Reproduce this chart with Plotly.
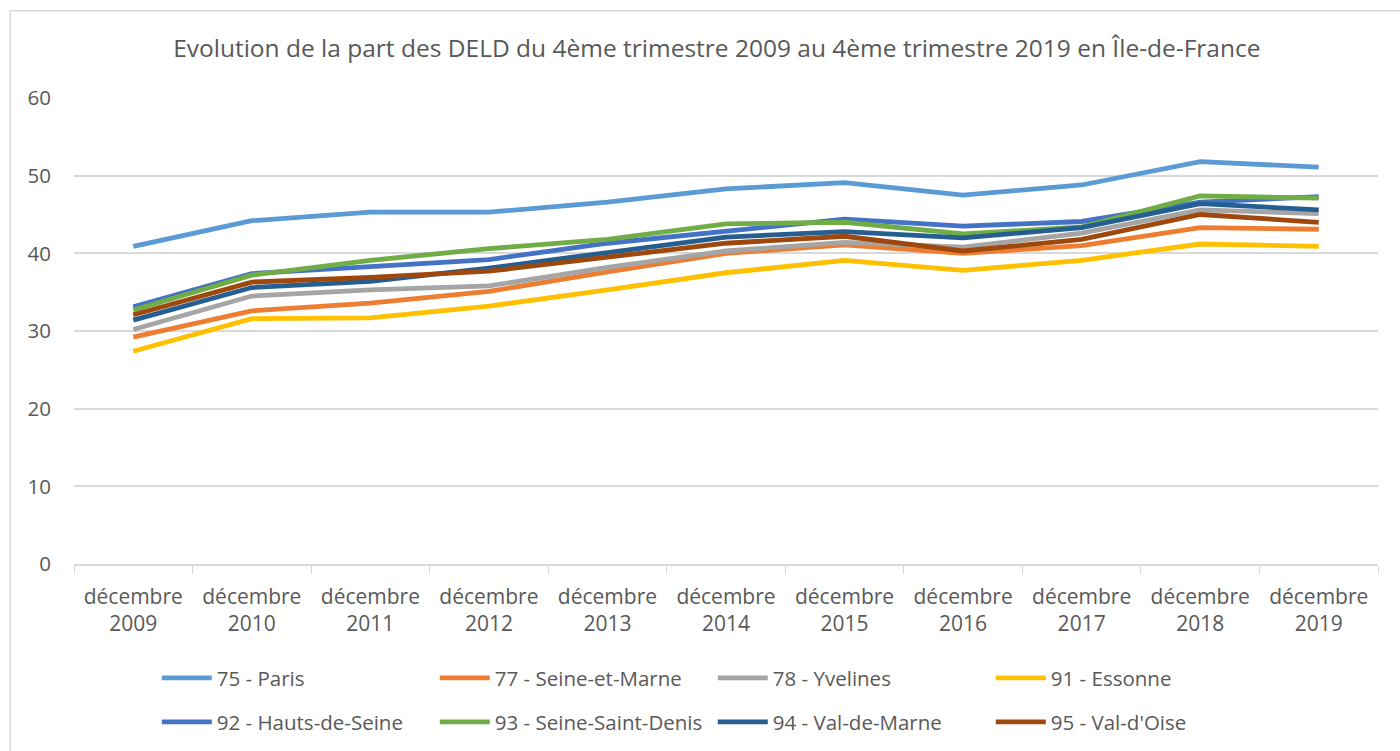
import plotly.graph_objects as go

# Share of long-term jobseekers (DELD), Q4 each year, by département
years = ["2009", "2010", "2011", "2012", "2013", "2014", "2015", "2016", "2017", "2018", "2019"]
categories = [f"décembre<br>{y}" for y in years]

paris = [40.9, 44.2, 45.3, 45.3, 46.6, 48.3, 49.1, 47.5, 48.8, 51.8, 51.1]
seine_et_marne = [29.2, 32.6, 33.6, 35.1, 37.6, 40.0, 41.1, 40.0, 41.0, 43.3, 43.1]
yvelines = [30.2, 34.5, 35.3, 35.8, 38.2, 40.3, 41.4, 40.8, 42.6, 45.6, 45.1]
essonne = [27.4, 31.6, 31.7, 33.2, 35.3, 37.5, 39.1, 37.8, 39.1, 41.2, 40.9]
hauts_de_seine = [33.1, 37.4, 38.3, 39.2, 41.3, 42.9, 44.4, 43.5, 44.1, 46.6, 47.3]
seine_saint_denis = [32.7, 37.2, 39.1, 40.6, 41.8, 43.8, 44.0, 42.5, 43.4, 47.4, 47.1]
val_de_marne = [31.4, 35.6, 36.4, 38.1, 40.1, 42.1, 42.8, 42.0, 43.3, 46.4, 45.6]
val_d_oise = [32.1, 36.3, 36.9, 37.7, 39.5, 41.3, 42.2, 40.3, 41.8, 45.0, 44.0]

series = [
    ("75 - Paris", paris, "#5B9BD5", "legend"),
    ("77 - Seine-et-Marne", seine_et_marne, "#ED7D31", "legend"),
    ("78 - Yvelines", yvelines, "#A5A5A5", "legend"),
    ("91 - Essonne", essonne, "#FFC000", "legend"),
    ("92 - Hauts-de-Seine", hauts_de_seine, "#4472C4", "legend2"),
    ("93 - Seine-Saint-Denis", seine_saint_denis, "#70AD47", "legend2"),
    ("94 - Val-de-Marne", val_de_marne, "#255E91", "legend2"),
    ("95 - Val-d'Oise", val_d_oise, "#9E480E", "legend2"),
]

FONT = "Open Sans"
TXT = "#595959"

fig = go.Figure()
for name, vals, color, leg in series:
    fig.add_trace(go.Scatter(
        x=categories, y=vals, name=name, mode="lines",
        line=dict(color=color, width=4.8),
        legend=leg,
    ))

legend_common = dict(
    orientation="h", xanchor="left", yanchor="middle",
    font=dict(family=FONT, size=20.5, color=TXT),
    entrywidth=213, entrywidthmode="pixels",
    bgcolor="rgba(0,0,0,0)", itemwidth=50,
    xref="container", yref="container",
)

fig.update_layout(
    width=1400, height=751,
    margin=dict(l=74, r=22, t=98, b=187, autoexpand=False),
    paper_bgcolor="white", plot_bgcolor="white",
    title=dict(
        text="Evolution de la part des DELD du 4ème trimestre 2009 au 4ème trimestre 2019 en Île-de-France",
        x=0.512, xanchor="center", y=0.936, yanchor="middle",
        font=dict(family=FONT, size=24.5, color=TXT),
    ),
    showlegend=True,
    legend=dict(x=0.112, y=1 - 678 / 751, **legend_common),
    legend2=dict(x=0.112, y=1 - 722 / 751, **legend_common),
    xaxis=dict(
        type="category", range=[-0.5, 10.5], automargin=False,
        tickson="boundaries", ticks="outside", ticklen=8, tickcolor="#D9D9D9",
        showline=True, linecolor="#D9D9D9", linewidth=1.5,
        showgrid=False, ticklabelstandoff=13,
        tickfont=dict(family=FONT, size=21, color=TXT),
    ),
    yaxis=dict(
        range=[0, 60], dtick=10, automargin=False,
        showgrid=True, gridcolor="#D9D9D9", gridwidth=1.5,
        zeroline=False, showline=False,
        ticks="", ticklabelstandoff=22,
        tickfont=dict(family=FONT, size=20.5, color=TXT),
    ),
    shapes=[dict(
        type="rect", xref="paper", yref="paper",
        x0=-0.049, x1=1.03, y0=-0.45, y1=1.187,
        line=dict(color="#D9D9D9", width=1.5),
    )],
)

fig.write_html("out.html")
